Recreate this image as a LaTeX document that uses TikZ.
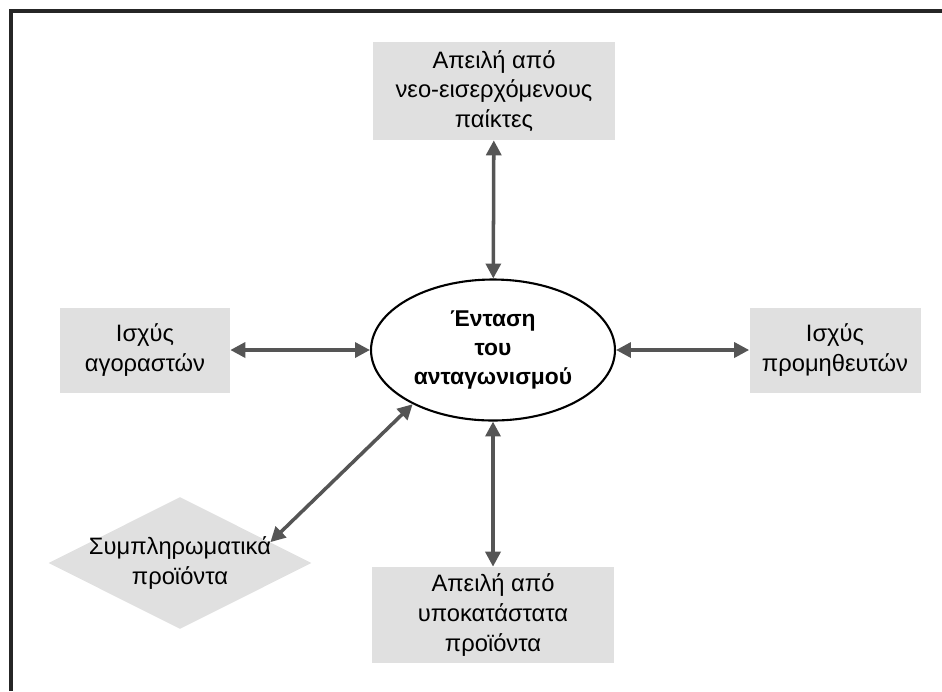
\documentclass[tikz,border=0pt]{standalone}
\usepackage{fontspec}
\setmainfont{Liberation Sans}
\usetikzlibrary{arrows.meta,shapes.geometric}
\definecolor{boxgray}{RGB}{224,224,224}
\definecolor{arrowgray}{RGB}{85,85,85}

\begin{document}
\begin{tikzpicture}[x=0.02cm,y=-0.02cm]

        \useasboundingbox (0,0) rectangle (942,691);
        \draw[line width=2pt,black!85] (11,691) -- (11,11) -- (942,11);

        \begin{scope}[every node/.style={align=center,font=\fontsize{13.5}{17}\selectfont}]
          \node[ellipse,draw,line width=1.2pt,fill=white,inner sep=0pt,
                minimum width=4.88cm,minimum height=2.82cm,font=\fontsize{13}{16.5}\selectfont\bfseries]
                (1) at (493,350) {Ένταση\\του\\ανταγωνισμού};
          \node[fill=boxgray,minimum width=4.84cm,minimum height=1.96cm] (2) at (494,91)
                {Απειλή από\\νεο-εισερχόμενους\\παίκτες};
          \node[fill=boxgray,minimum width=3.4cm,minimum height=1.7cm] (3) at (145,350)
                {Ισχύς\\αγοραστών};
          \node[fill=boxgray,minimum width=3.42cm,minimum height=1.7cm] (4) at (835,350)
                {Ισχύς\\προμηθευτών};
          \node[fill=boxgray,minimum width=4.84cm,minimum height=1.92cm] (5) at (493,615)
                {Απειλή από\\υποκατάστατα\\προϊόντα};
          \node[diamond,fill=boxgray,inner sep=0pt,minimum width=5.26cm,minimum height=2.64cm,
                label={[align=center,font=\fontsize{13.5}{17}\selectfont]center:Συμπληρωματικά\\προϊόντα}]
                (6) at (180,563) {};
        \end{scope}

        \begin{scope}[every edge/.style={draw=arrowgray,line width=2pt,
                      {Triangle[length=8.5pt,width=8.5pt]}-{Triangle[length=8.5pt,width=8.5pt]}}]
          \path (2)  edge (1);
          \path (3)  edge (1);
          \path (4)  edge (1);
          \path (5)  edge (1);
          \path (6.13)  edge (1.214);
        \end{scope}

      \end{tikzpicture}
\end{document}
